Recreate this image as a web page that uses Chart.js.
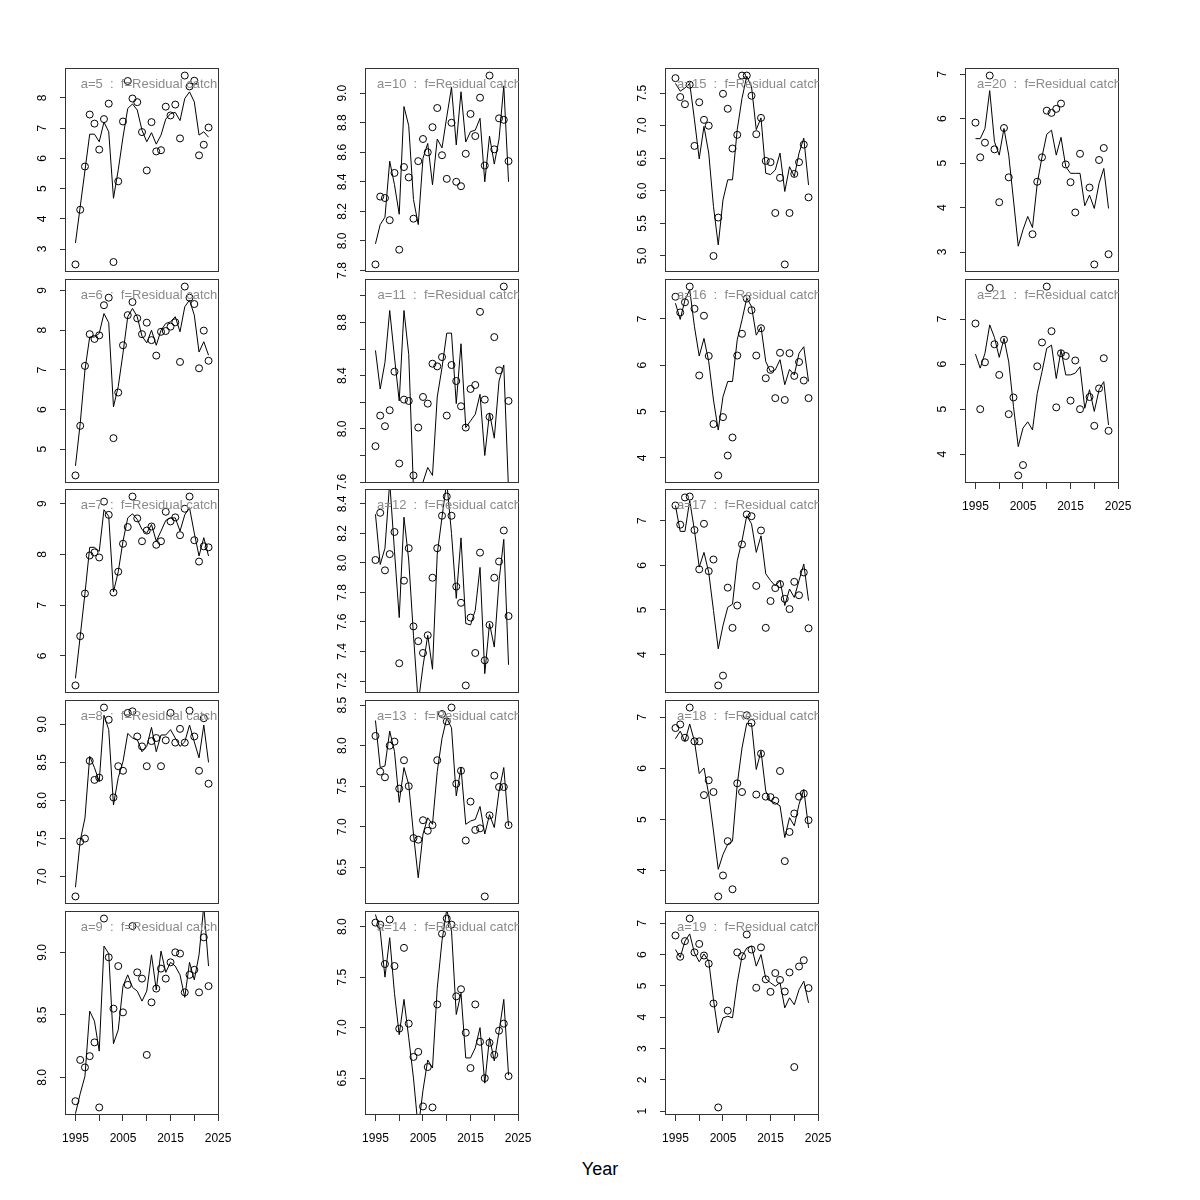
<!DOCTYPE html>
<html><head><meta charset="utf-8">
<script src="https://cdn.jsdelivr.net/npm/chart.js@4.4.1/dist/chart.umd.min.js"></script>
<style>
html,body{margin:0;padding:0;background:#fff;}
#wrap{position:relative;width:1200px;height:1200px;background:#fff;overflow:hidden;}
canvas{position:absolute;}
#xlab{position:absolute;left:0;width:1200px;top:1158px;text-align:center;font:18px "Liberation Sans",Arial,sans-serif;color:#000;line-height:22px;}
</style></head><body><div id="wrap"><div id="xlab">Year</div></div>
<script>
const years = [1995,1996,1997,1998,1999,2000,2001,2002,2003,2004,2005,2006,2007,2008,2009,2010,2011,2012,2013,2014,2015,2016,2017,2018,2019,2020,2021,2022,2023];

const obs_a5 = [2.49,4.30,5.73,7.45,7.15,6.29,7.30,7.81,2.57,5.24,7.22,8.56,7.98,7.86,6.87,5.60,7.20,6.23,6.27,7.71,7.42,7.78,6.66,8.74,8.38,8.57,6.10,6.45,7.02];
const fit_a5 = [3.20,4.40,5.60,6.80,6.80,6.55,7.20,6.88,4.68,5.62,6.70,7.65,7.80,7.60,6.93,6.55,6.85,6.47,6.77,7.30,7.48,7.52,7.25,7.98,8.20,7.87,6.77,6.88,6.70];
const obs_a6 = [4.34,5.59,7.10,7.90,7.78,7.87,8.63,8.82,5.28,6.43,7.62,8.38,8.71,8.30,7.90,8.19,7.75,7.36,7.96,7.98,8.09,8.20,7.20,9.10,8.82,8.66,7.04,7.99,7.23];
const fit_a6 = [4.58,5.65,7.00,7.83,7.83,7.92,8.42,8.19,6.07,6.58,7.42,8.34,8.55,8.34,7.85,7.68,8.00,7.62,8.00,8.17,8.21,8.34,7.96,8.59,8.76,8.38,7.45,7.71,7.37];
const obs_a7 = [5.42,6.39,7.23,7.98,8.04,7.94,9.04,8.78,7.25,7.66,8.21,8.54,9.14,8.71,8.26,8.47,8.55,8.19,8.26,8.84,8.65,8.73,8.38,8.90,9.14,8.28,7.86,8.16,8.14];
const fit_a7 = [5.56,6.39,7.23,8.14,8.14,8.06,8.88,8.75,7.26,7.66,8.26,8.72,8.80,8.69,8.49,8.42,8.59,8.26,8.46,8.67,8.72,8.72,8.46,8.78,8.92,8.42,7.97,8.33,7.97];
const obs_a8 = [6.74,7.46,7.50,8.52,8.27,8.30,9.22,9.06,8.04,8.45,8.39,9.15,9.17,8.84,8.71,8.45,8.78,8.82,8.45,8.79,9.15,8.76,8.94,8.76,9.18,8.84,8.39,9.08,8.22];
const fit_a8 = [6.86,7.47,7.77,8.58,8.43,8.25,9.12,8.93,7.94,8.30,8.51,8.88,8.82,8.80,8.64,8.71,8.96,8.64,8.86,8.86,8.93,8.82,8.71,8.77,8.99,8.77,8.56,8.99,8.50];
const obs_a9 = [7.81,8.14,8.08,8.17,8.28,7.76,9.27,8.96,8.55,8.89,8.52,8.74,9.21,8.84,8.79,8.18,8.60,8.71,8.87,8.79,8.92,9.00,8.99,8.68,8.82,8.86,8.68,9.12,8.73];
const fit_a9 = [7.71,7.87,8.01,8.53,8.45,8.21,9.05,8.99,8.27,8.38,8.73,8.82,8.72,8.69,8.61,8.69,8.98,8.70,9.01,8.84,8.92,8.89,8.82,8.64,8.92,8.78,8.98,9.37,8.89];
const obs_a10 = [7.84,8.30,8.29,8.14,8.46,7.94,8.50,8.43,8.15,8.54,8.69,8.60,8.77,8.90,8.58,8.42,8.80,8.40,8.37,8.59,8.86,8.71,8.97,8.51,9.12,8.62,8.83,8.82,8.54];
const fit_a10 = [7.98,8.11,8.16,8.54,8.38,8.18,8.91,8.78,8.28,8.11,8.56,8.66,8.38,8.69,8.63,8.84,9.04,8.65,9.01,8.67,8.74,8.75,8.83,8.40,8.71,8.52,8.69,9.05,8.40];
const obs_a11 = [7.87,8.10,8.02,8.14,8.43,7.74,8.22,8.21,7.65,8.01,8.24,8.19,8.49,8.47,8.54,8.10,8.48,8.36,8.17,8.01,8.30,8.33,8.88,8.22,8.09,8.69,8.44,9.07,8.21];
const fit_a11 = [8.59,8.30,8.50,8.89,8.54,8.21,8.89,8.56,7.54,7.48,7.60,7.71,7.65,8.24,8.46,8.72,8.72,8.19,8.64,8.01,8.06,8.11,8.26,7.80,8.12,7.93,8.36,8.48,7.54];
const obs_a12 = [8.02,8.34,7.95,8.06,8.21,7.32,7.88,8.10,7.57,7.47,7.39,7.51,7.90,8.10,8.32,8.45,8.32,7.84,7.73,7.17,7.63,7.39,8.07,7.34,7.58,7.90,8.01,8.22,7.64];
const fit_a12 = [8.33,7.99,8.10,8.55,8.08,7.63,8.31,8.02,7.51,7.05,7.30,7.51,7.28,8.06,8.31,8.55,8.20,7.76,8.17,7.59,7.58,7.68,7.97,7.25,7.59,7.43,7.88,8.16,7.31];
const obs_a13 = [8.12,7.68,7.61,8.00,8.05,7.47,7.82,7.50,6.86,6.84,7.08,6.95,7.02,7.82,8.39,8.30,8.47,7.53,7.69,6.83,7.31,6.96,6.98,6.14,7.14,7.63,7.49,7.49,7.02];
const fit_a13 = [8.31,7.73,7.75,8.18,7.93,7.30,7.73,7.52,6.91,6.37,6.91,7.11,7.03,7.68,8.09,8.34,8.22,7.38,7.73,7.03,7.07,7.09,7.25,6.91,7.15,6.99,7.44,7.73,7.01];
const obs_a14 = [8.04,8.02,7.63,8.07,7.61,6.99,7.79,7.04,6.71,6.76,6.22,6.61,6.21,7.23,7.93,8.08,8.02,7.31,7.38,6.95,6.60,7.23,6.86,6.50,6.85,6.73,6.97,7.04,6.52];
const fit_a14 = [8.12,7.96,7.50,7.89,7.34,6.93,7.28,6.90,6.50,6.00,6.38,6.68,6.60,7.39,7.86,8.17,7.96,7.13,7.34,6.70,6.70,6.80,7.00,6.45,6.90,6.67,6.96,7.28,6.53];
const obs_a15 = [7.73,7.44,7.33,7.63,6.69,7.36,7.09,7.00,5.00,5.59,7.49,7.26,6.65,6.86,7.77,7.77,7.46,6.87,7.12,6.46,6.44,5.66,6.20,4.87,5.66,6.26,6.44,6.71,5.90];
const fit_a15 = [7.65,7.53,7.58,7.65,7.09,6.49,6.99,6.58,5.76,5.17,5.86,6.17,6.17,6.94,7.42,7.76,7.60,6.94,7.12,6.27,6.25,6.32,6.58,5.99,6.37,6.22,6.58,6.81,6.09];
const obs_a16 = [7.48,7.14,7.36,7.70,7.22,5.78,7.07,6.20,4.73,3.62,4.88,4.05,4.44,6.21,6.68,7.44,7.19,6.21,6.80,5.72,5.90,5.29,6.27,5.25,6.26,5.77,6.07,5.67,5.29];
const fit_a16 = [7.34,6.99,7.41,7.63,6.83,6.20,6.58,6.08,5.25,4.60,5.32,5.65,5.65,6.55,6.98,7.45,7.27,6.65,6.83,6.08,5.86,5.90,6.12,5.58,5.91,5.79,6.26,6.40,5.65];
const obs_a17 = [7.34,6.91,7.52,7.54,6.79,5.91,6.93,5.87,6.13,3.31,3.53,5.50,4.60,5.10,6.47,7.14,7.10,5.54,6.78,4.60,5.20,5.49,5.58,5.25,5.02,5.63,5.33,5.84,4.59];
const fit_a17 = [7.34,6.76,6.76,7.45,6.78,5.96,6.29,5.84,4.99,4.13,4.65,5.06,5.13,6.10,6.55,7.11,6.93,6.29,6.66,5.81,5.66,5.54,5.66,5.10,5.47,5.28,5.66,6.03,5.21];
const obs_a18 = [6.79,6.86,6.60,7.19,6.53,6.53,5.48,5.77,5.54,3.50,3.91,4.58,3.64,5.71,5.54,7.04,6.89,5.49,6.29,5.45,5.44,5.37,5.95,4.19,4.76,5.12,5.45,5.51,4.99];
const fit_a18 = [6.58,6.73,6.53,6.87,6.53,5.90,6.01,5.49,4.78,4.03,4.32,4.52,4.58,5.69,6.40,6.88,6.88,5.98,6.34,5.56,5.36,5.33,5.27,4.65,5.04,4.88,5.30,5.59,4.84];
const obs_a19 = [6.61,5.93,6.43,7.15,6.07,6.34,5.97,5.71,4.44,1.12,null,4.21,null,6.07,5.95,6.64,6.16,4.94,6.23,5.21,4.81,5.41,5.19,4.82,5.43,2.41,5.62,5.82,4.93];
const fit_a19 = [6.16,5.91,6.43,6.66,6.05,5.77,6.02,5.79,4.56,3.50,3.98,4.03,3.98,5.10,5.95,6.21,6.27,5.63,6.00,5.23,5.10,4.99,5.10,4.30,4.62,4.40,4.88,5.15,4.46];
const obs_a20 = [5.91,5.13,5.46,6.97,5.31,4.12,5.79,4.68,null,null,null,null,3.40,4.58,5.13,6.18,6.13,6.22,6.34,4.97,4.57,3.89,5.21,null,4.45,2.72,5.07,5.34,2.95];
const fit_a20 = [5.55,5.55,5.78,6.63,5.48,5.18,5.78,5.18,4.17,3.13,3.50,3.80,3.55,4.54,5.14,5.65,5.74,5.18,5.58,4.92,4.77,4.77,4.77,4.04,4.28,3.98,4.54,4.88,3.98];
const obs_a21 = [6.90,5.00,6.04,7.69,6.44,5.76,6.54,4.89,5.26,3.53,3.76,null,null,5.95,6.48,7.72,6.73,5.04,6.24,6.18,5.19,6.08,5.00,null,5.27,4.63,5.46,6.13,4.52];
const fit_a21 = [6.22,5.91,6.24,6.87,6.59,6.15,6.57,6.05,5.06,4.17,4.58,4.72,4.54,5.35,5.83,6.35,6.42,5.68,6.31,5.76,5.76,5.80,5.94,5.02,5.43,4.95,5.43,5.61,4.65];

const ages = [5,6,7,8,9,10,11,12,13,14,15,16,17,18,19,20,21];
const yTickStep = [1,1,1,0.5,0.5,0.2,0.2,0.2,0.5,0.5,0.5,1,1,1,1,1,1];
const xTickLabels = [1995,2005,2015,2025];
const panelText = 'f=Residual catch';

const obsList = [obs_a5,obs_a6,obs_a7,obs_a8,obs_a9,obs_a10,obs_a11,obs_a12,obs_a13,obs_a14,obs_a15,obs_a16,obs_a17,obs_a18,obs_a19,obs_a20,obs_a21];
const fitList = [fit_a5,fit_a6,fit_a7,fit_a8,fit_a9,fit_a10,fit_a11,fit_a12,fit_a13,fit_a14,fit_a15,fit_a16,fit_a17,fit_a18,fit_a19,fit_a20,fit_a21];

const FONT = '"Liberation Sans", Arial, Helvetica, sans-serif';
const colLeft = [65,365,665,965];
const rowTop = [68,279,489,700,911];
const BOXW = 154, BOXH = 204;
const YAXW = 45, PADT = 10, PADR = 40;

const wrap = document.getElementById('wrap');

function panelPlugin(age, step){
  return {
    id: 'panelDeco',
    afterDraw(chart){
      const ctx = chart.ctx, ca = chart.chartArea, ys = chart.scales.y;
      ctx.save();
      ctx.strokeStyle = '#333'; ctx.lineWidth = 1;
      ctx.strokeRect(Math.round(ca.left)+0.5, Math.round(ca.top)+0.5, Math.round(ca.right-ca.left)-1, Math.round(ca.bottom-ca.top)-1);
      ctx.font = '12px ' + FONT; ctx.fillStyle = '#000';
      ctx.textAlign = 'center'; ctx.textBaseline = 'middle';
      let lastY = null, lastW = 0;
      const ticks = ys.ticks.slice().sort((a,b)=>a.value-b.value);
      for (const t of ticks){
        const txt = step < 1 ? t.value.toFixed(1) : String(Math.round(t.value));
        const y = ys.getPixelForValue(t.value);
        const w = ctx.measureText(txt).width;
        if (lastY !== null && Math.abs(lastY - y) < lastW/2 + w/2 + 12) continue;
        ctx.save();
        ctx.translate(ca.left - 22, y);
        ctx.rotate(-Math.PI/2);
        ctx.fillText(txt, 0, 0);
        ctx.restore();
        lastY = y; lastW = w;
      }
      ctx.beginPath();
      ctx.rect(ca.left, ca.top, ca.right-ca.left, ca.bottom-ca.top);
      ctx.clip();
      ctx.font = '13px ' + FONT; ctx.fillStyle = '#8a8a8a';
      ctx.textAlign = 'center'; ctx.textBaseline = 'middle';
      ctx.fillText('a=' + age + '  :  ' + panelText, ca.left + 84, ca.top + 16);
      ctx.restore();
    }
  };
}

ages.forEach((age, k) => {
  const col = age < 10 ? 0 : age < 15 ? 1 : age < 20 ? 2 : 3;
  const row = col < 3 ? (age - 5) % 5 : age - 20;
  const bottom = (col < 3 && row === 4) || (col === 3 && row === 1);
  const obs = obsList[k], fit = fitList[k];
  const valid = obs.filter(v => v !== null);
  const lo = Math.min(...valid), hi = Math.max(...valid);
  const ext = (hi - lo) * 0.04;
  const padB = bottom ? 5 : 10;
  const xAxH = bottom ? 40 : 0;
  const cw = YAXW + BOXW + PADR;
  const ch = PADT + BOXH + xAxH + padB;
  const cv = document.createElement('canvas');
  cv.width = cw; cv.height = ch;
  cv.style.left = (colLeft[col] - YAXW) + 'px';
  cv.style.top = (rowTop[row] - PADT) + 'px';
  cv.style.width = cw + 'px'; cv.style.height = ch + 'px';
  wrap.appendChild(cv);

  new Chart(cv.getContext('2d'), {
    data: {
      datasets: [
        { type: 'line', data: years.map((yr,i)=>({x:yr, y:fit[i]})), borderColor:'#000', borderWidth:1, pointRadius:0, tension:0, fill:false },
        { type: 'scatter', data: years.map((yr,i)=>({x:yr, y:obs[i]})).filter(p=>p.y!==null), borderColor:'#000', backgroundColor:'rgba(0,0,0,0)', borderWidth:1, pointRadius:3.5, pointStyle:'circle' }
      ]
    },
    options: {
      responsive:false, animation:false, devicePixelRatio:1,
      layout:{ padding:{ left:0, top:PADT, right:PADR, bottom:padB } },
      plugins:{ legend:{display:false}, tooltip:{enabled:false} },
      events: [],
      scales:{
        x:{ type:'linear', min:1992.8, max:2025.2, display:bottom,
            afterFit: s => { s.height = xAxH; },
            border:{display:false},
            grid:{ drawOnChartArea:false, drawTicks:true, tickLength:6, color:'#333' },
            ticks:{ stepSize:5, includeBounds:false, autoSkip:false, maxRotation:0, minRotation:0,
                    padding:10, color:'#000', font:{size:12, family:FONT},
                    callback: v => xTickLabels.includes(v) ? String(v) : '' } },
        y:{ type:'linear', min: lo - ext, max: hi + ext,
            afterFit: s => { s.width = YAXW; },
            border:{display:false},
            grid:{ drawOnChartArea:false, drawTicks:true, tickLength:5, color:'#333' },
            ticks:{ display:false, stepSize: yTickStep[k], includeBounds:false } }
      }
    },
    plugins:[panelPlugin(age, yTickStep[k])]
  });
});
</script>
</body></html>
